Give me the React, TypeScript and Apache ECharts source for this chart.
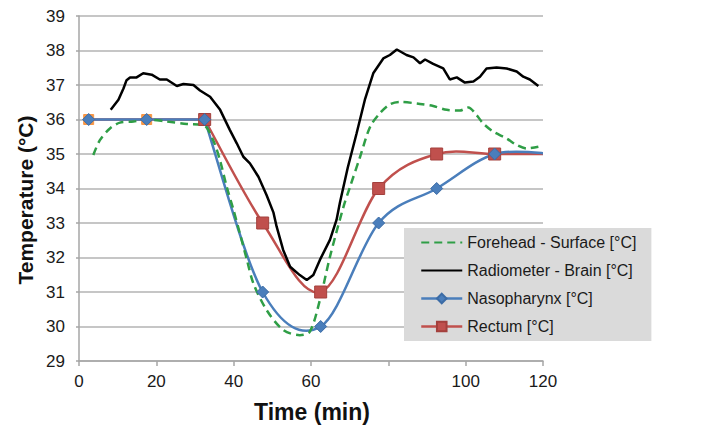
import React, { useEffect, useRef } from "react";
import * as echarts from "echarts";

const hiddenXTickLabels = [80];

const sampleTimes = [2.5, 17.5, 32.5, 47.5, 62.5, 77.5, 92.5, 107.5, 122.5];
const nasopharynx = [36, 36, 36, 31, 30, 33, 34, 35, 35];
const rectum = [36, 36, 36, 33, 31, 34, 35, 35, 35];
// index from which the reference draws the series as a smoothed curve
const smoothStartIndex = 2;

const forehead: [number, number][] = [
  [3.7, 34.97], [5.4, 35.4], [8.0, 35.74], [10.6, 35.91], [14.1, 35.94], [17.6, 36.0],
  [22.7, 35.94], [27.9, 35.87], [32.2, 35.84], [34.7, 35.4], [36.5, 34.8], [38.2, 34.05],
  [39.9, 33.4], [41.6, 32.7], [43.5, 31.9], [45.1, 31.25], [48.5, 30.48], [52.8, 29.9],
  [57.1, 29.75], [59.7, 29.85], [62.3, 30.77], [64.9, 32.02], [68.4, 33.47], [70.1, 34.05],
  [72.7, 34.92], [75.3, 35.79], [77.8, 36.18], [80.4, 36.44], [83.0, 36.51], [88.2, 36.45],
  [91.6, 36.39], [95.1, 36.28], [98.5, 36.26], [100.7, 36.35], [102.8, 36.13], [104.5, 35.89],
  [107.1, 35.65], [110.6, 35.45], [113.2, 35.26], [115.8, 35.16], [118.8, 35.21],
];

const radiometer: [number, number][] = [
  [8.2, 36.28], [10.2, 36.57], [11.5, 36.9], [12.3, 37.14], [13.2, 37.22], [14.9, 37.22],
  [16.6, 37.34], [18.8, 37.3], [20.9, 37.16], [22.7, 37.16], [25.3, 36.97], [27.0, 37.03],
  [29.6, 37.0], [31.3, 36.84], [33.9, 36.66], [36.5, 36.28], [39.0, 35.7], [40.8, 35.31],
  [42.5, 34.92], [44.2, 34.73], [46.4, 34.34], [48.5, 33.81], [50.3, 33.3], [51.1, 32.9],
  [52.8, 32.22], [54.6, 31.73], [57.1, 31.49], [58.9, 31.35], [60.6, 31.49], [62.3, 31.93],
  [64.9, 32.51], [66.6, 33.09], [67.5, 33.6], [69.5, 34.6], [71.8, 35.6], [74.0, 36.6],
  [76.1, 37.34], [78.7, 37.77], [80.4, 37.87], [82.2, 38.03], [84.7, 37.87], [86.5, 37.8],
  [88.2, 37.63], [89.5, 37.74], [91.6, 37.61], [94.2, 37.48], [95.9, 37.16], [97.7, 37.22],
  [99.8, 37.07], [102.0, 37.1], [103.7, 37.24], [105.4, 37.48], [108.0, 37.51], [110.6, 37.48],
  [113.2, 37.39], [114.9, 37.24], [116.6, 37.16], [118.8, 36.97],
];

const FONT = "Liberation Sans, Arial, Helvetica, sans-serif";
const BLUE = "#4a7ebb";
const RED = "#c0504d";

// Excel-like smoothed curve (Catmull-Rom through pixel positions given by the axes)
function smoothCurveSeries(name: string, pts: number[][], color: string, startIdx: number) {
  return {
    name,
    type: "custom",
    clip: true,
    silent: true,
    data: pts,
    encode: { x: 0, y: 1 },
    renderItem: (params: any, api: any) => {
      if (params.dataIndex !== 0) return null;
      const all = pts.map((d) => api.coord(d));
      let d = `M${all[0][0]},${all[0][1]}`;
      for (let i = 1; i <= startIdx; i++) d += ` L${all[i][0]},${all[i][1]}`;
      const p = all.slice(startIdx);
      for (let i = 0; i < p.length - 1; i++) {
        const p0 = p[Math.max(i - 1, 0)];
        const p1 = p[i];
        const p2 = p[i + 1];
        const p3 = p[Math.min(i + 2, p.length - 1)];
        const c1x = p1[0] + (p2[0] - p0[0]) / 6;
        const c1y = p1[1] + (p2[1] - p0[1]) / 6;
        const c2x = p2[0] - (p3[0] - p1[0]) / 6;
        const c2y = p2[1] - (p3[1] - p1[1]) / 6;
        d += ` C${c1x},${c1y} ${c2x},${c2y} ${p2[0]},${p2[1]}`;
      }
      return {
        type: "path",
        shape: { pathData: d },
        style: { stroke: color, lineWidth: 2.5, fill: "none", lineJoin: "round" },
      };
    },
  };
}

export default function App() {
  const ref = useRef<HTMLDivElement>(null);
  useEffect(() => {
    if (!ref.current) return;
    const chart = echarts.init(ref.current, undefined, { renderer: "svg" });
    const naso = sampleTimes.map((t, i) => [t, nasopharynx[i]]);
    const rect = sampleTimes.map((t, i) => [t, rectum[i]]);
    const rectumData = rect.map((v, i) => {
      const item: any = { value: v };
      if (i < 2) {
        item.symbolSize = 10;
        item.itemStyle = { color: "#f79646", borderColor: "#f79646" };
      }
      return item;
    });
    chart.setOption({
      animation: false,
      backgroundColor: "#ffffff",
      textStyle: { fontFamily: FONT },
      grid: { left: 79, right: 174, top: 16, bottom: 80 },
      graphic: [
        {
          type: "text",
          x: 25,
          y: 200,
          rotation: Math.PI / 2,
          style: {
            text: "Temperature (°C)",
            fontSize: 21,
            fontWeight: "bold",
            fontFamily: FONT,
            fill: "#111",
            align: "center",
            verticalAlign: "middle",
          },
        },
        {
          type: "text",
          x: 312,
          y: 412,
          style: {
            text: "Time (min)",
            fontSize: 23,
            fontWeight: "bold",
            fontFamily: FONT,
            fill: "#111",
            align: "center",
            verticalAlign: "middle",
          },
        },
      ],
      legend: {
        orient: "vertical",
        left: 404,
        top: 228,
        backgroundColor: "#dadada",
        padding: [6, 15, 6, 16],
        itemWidth: 41,
        itemHeight: 12,
        itemGap: 11,
        data: [
          "Forehead - Surface [°C]",
          "Radiometer - Brain [°C]",
          { name: "Nasopharynx [°C]", lineStyle: { color: BLUE, width: 2.5, opacity: 1 } },
          { name: "Rectum [°C]", lineStyle: { color: RED, width: 2.5, opacity: 1 } },
        ],
        textStyle: { fontSize: 16, color: "#1a1a1a", fontFamily: FONT, lineHeight: 17 },
      },
      xAxis: {
        type: "value",
        min: 0,
        max: 120,
        interval: 20,
        axisLine: { show: true, lineStyle: { color: "#a6a6a6", width: 1.5 } },
        axisTick: { show: true, length: 5, lineStyle: { color: "#a6a6a6", width: 1.5 } },
        axisLabel: {
          fontSize: 17,
          color: "#1a1a1a",
          margin: 12,
          formatter: (v: number) => (hiddenXTickLabels.includes(v) ? "" : String(v)),
        },
        splitLine: { show: false },
      },
      yAxis: {
        type: "value",
        min: 29,
        max: 39,
        interval: 1,
        axisLine: { show: true, lineStyle: { color: "#a6a6a6", width: 1.5 } },
        axisTick: { show: true, length: 3, lineStyle: { color: "#a6a6a6", width: 1.5 } },
        axisLabel: { fontSize: 17, color: "#1a1a1a", margin: 14 },
        splitLine: { show: true, lineStyle: { color: "#b3b3b3", width: 1.5 } },
      },
      series: [
        smoothCurveSeries("rectum-curve", rect, RED, smoothStartIndex),
        {
          name: "Rectum [°C]",
          type: "line",
          data: rectumData,
          symbol: "rect",
          symbolSize: 12,
          lineStyle: { color: RED, width: 2.5, opacity: 0 },
          itemStyle: { color: RED, borderColor: "#a3403d", borderWidth: 1 },
        },
        smoothCurveSeries("naso-curve", naso, BLUE, smoothStartIndex),
        {
          name: "Nasopharynx [°C]",
          type: "line",
          data: naso,
          symbol: "diamond",
          symbolSize: 12,
          lineStyle: { color: BLUE, width: 2.5, opacity: 0 },
          itemStyle: { color: BLUE, borderColor: "#3c6ca6", borderWidth: 1 },
        },
        {
          name: "Forehead - Surface [°C]",
          type: "line",
          smooth: 0.3,
          data: forehead,
          symbol: "none",
          lineStyle: { color: "#2f9e46", width: 2.5, type: [8, 5] },
          itemStyle: { color: "rgba(0,0,0,0)", borderWidth: 0 },
        },
        {
          name: "Radiometer - Brain [°C]",
          type: "line",
          smooth: false,
          data: radiometer,
          symbol: "none",
          lineStyle: { color: "#000000", width: 2.5 },
          itemStyle: { color: "rgba(0,0,0,0)", borderWidth: 0 },
        },
      ],
    });
    return () => chart.dispose();
  }, []);
  return <div ref={ref} style={{ width: 717, height: 441, position: "absolute", left: 0, top: 0 }} />;
}
